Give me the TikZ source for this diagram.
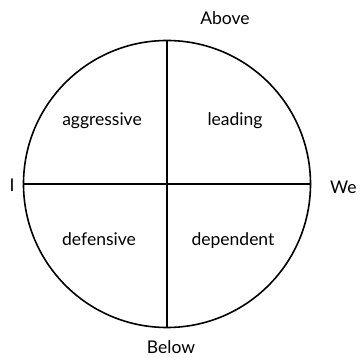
\documentclass[tikz,border=0pt]{standalone}
\usepackage{fontspec}
\setmainfont{Lato}
\usepackage{tikz}
\usetikzlibrary{positioning}

\begin{document}
\begin{tikzpicture}[
  x=1pt, y=-1pt,
  font=\fontsize{17.5}{20}\selectfont,
  ring/.style={draw=black, line width=1.6pt},
  axis/.style={draw=black, line width=1.3pt},
  quad/.style={inner sep=0pt, anchor=base},
  side/.style={inner sep=0pt, anchor=base}
]
  \useasboundingbox (0,0) rectangle (360,358);
  \coordinate (c) at (167,184);
  \draw[ring] (c) circle[radius=143.5];
  \coordinate (top) at (167,40.5);
  \coordinate (bot) at (167,327.5);
  \coordinate (lft) at (23.5,184);
  \coordinate (rgt) at (310.5,184);
  \draw[axis] (top) -- (bot);
  \draw[axis] (lft) -- (rgt);
  \node[quad] (agg) at (102,126) {aggressive};
  \node[quad] (lead) at (235,126) {leading};
  \node[quad] (def) at (99,246) {defensive};
  \node[quad] (dep) at (233,246) {dependent};
  \node[side] (above) at (225,25) {Above};
  \node[side] (below) at (171,354) {Below};
  \node[side] (me) at (12,192) {I};
  \node[side, anchor=base west] (we) at (330,194) {We};
\end{tikzpicture}
\end{document}
